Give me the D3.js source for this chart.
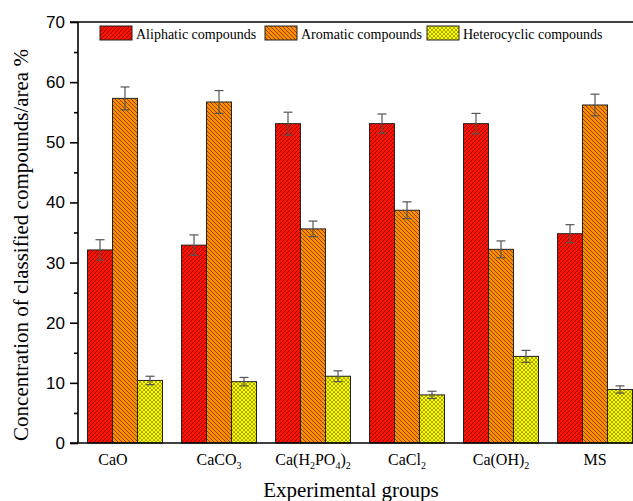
<!DOCTYPE html>
<html>
<head>
<meta charset="utf-8">
<script src="https://cdn.jsdelivr.net/npm/d3@7"></script>
<style>
  body { margin: 0; background: #fff; }
  svg { display: block; }
  .serif { font-family: "Liberation Serif", "Times New Roman", serif; }
  .sans { font-family: "Liberation Sans", Arial, sans-serif; }
</style>
</head>
<body>
<svg id="chart" width="633" height="501"></svg>
<script>
// groups, shown with subscripts (text, subscript) pieces
const groups = ["CaO", "CaCO3", "Ca(H2PO4)2", "CaCl2", "Ca(OH)2", "MS"];
const groupLabels = [
  [["CaO", false]],
  [["CaCO", false], ["3", true]],
  [["Ca(H", false], ["2", true], ["PO", false], ["4", true], [")", false], ["2", true]],
  [["CaCl", false], ["2", true]],
  [["Ca(OH)", false], ["2", true]],
  [["MS", false]]
];
const series = ["Aliphatic compounds", "Aromatic compounds", "Heterocyclic compounds"];
const aliphatic = [32.1, 32.9, 53.1, 53.1, 53.1, 34.8];
const aromatic = [57.3, 56.7, 35.6, 38.7, 32.2, 56.2];
const heterocyclic = [10.4, 10.2, 11.1, 8.0, 14.4, 8.9];
const aliphaticErr = [1.7, 1.7, 1.9, 1.6, 1.7, 1.5];
const aromaticErr = [1.9, 1.9, 1.3, 1.4, 1.4, 1.8];
const heterocyclicErr = [0.7, 0.7, 0.9, 0.6, 1.0, 0.6];
const yTicks = [0, 10, 20, 30, 40, 50, 60, 70];
const yMinor = [5, 15, 25, 35, 45, 55, 65];

const values = [aliphatic, aromatic, heterocyclic];
const errs = [aliphaticErr, aromaticErr, heterocyclicErr];

const svg = d3.select("#chart");
const mLeft = 78, mTop = 22, mBottom = 443, mRight = 633;

const x = d3.scaleBand().domain(groups).range([mLeft, mLeft + 94 * groups.length]);
const xs = d3.scaleBand().domain(series).range([9.5, 84.5]);
const y = d3.scaleLinear().domain([0, 70]).range([mBottom, mTop]);

// fill patterns
const defs = svg.append("defs");
function hatch(id, bg, dir) {
  const p = defs.append("pattern").attr("id", id)
    .attr("patternUnits", "userSpaceOnUse").attr("width", 4).attr("height", 4);
  p.append("rect").attr("width", 4).attr("height", 4).attr("fill", bg);
  const d = dir > 0 ? "M-1,1 l2,-2 M0,4 l4,-4 M3,5 l2,-2" : "M-1,3 l2,2 M0,0 l4,4 M3,-1 l2,2";
  p.append("path").attr("d", d).attr("stroke", "#2a1000").attr("stroke-width", 0.55);
}
hatch("pRed", "#ff1000", 1);
hatch("pOrange", "#ff8c00", -1);
const pc = defs.append("pattern").attr("id", "pYellow")
  .attr("patternUnits", "userSpaceOnUse").attr("width", 4).attr("height", 4);
pc.append("rect").attr("width", 4).attr("height", 4).attr("fill", "#3c3c00");
[[2, 2], [0, 0], [4, 0], [0, 4], [4, 4]].forEach(([cx, cy]) => {
  pc.append("circle").attr("cx", cx).attr("cy", cy).attr("r", 1.5).attr("fill", "#ffff00");
});
const fills = ["url(#pRed)", "url(#pOrange)", "url(#pYellow)"];

// bars
series.forEach((s, si) => {
  const g = svg.append("g");
  g.selectAll("rect").data(groups).join("rect")
    .attr("x", d => x(d) + xs(s))
    .attr("y", (d, i) => y(values[si][i]))
    .attr("width", xs.bandwidth())
    .attr("height", (d, i) => y(0) - y(values[si][i]))
    .attr("fill", fills[si])
    .attr("stroke", "#222").attr("stroke-width", 1);
  // error bars
  const e = svg.append("g").attr("stroke", "#555").attr("stroke-width", 1.2);
  groups.forEach((d, i) => {
    const cx = x(d) + xs(s) + xs.bandwidth() / 2;
    const v = values[si][i], er = errs[si][i];
    e.append("line").attr("x1", cx).attr("x2", cx).attr("y1", y(v - er)).attr("y2", y(v + er));
    e.append("line").attr("x1", cx - 4.5).attr("x2", cx + 4.5).attr("y1", y(v + er)).attr("y2", y(v + er));
    e.append("line").attr("x1", cx - 4.5).attr("x2", cx + 4.5).attr("y1", y(v - er)).attr("y2", y(v - er));
  });
});

// axes
const axisG = svg.append("g").attr("stroke", "#000").attr("stroke-width", 1.6);
axisG.append("line").attr("x1", mLeft).attr("x2", mLeft).attr("y1", mTop).attr("y2", mBottom);
axisG.append("line").attr("x1", mLeft - 8).attr("x2", mRight).attr("y1", mBottom).attr("y2", mBottom);
axisG.append("line").attr("x1", mLeft - 8).attr("x2", mRight).attr("y1", mTop).attr("y2", mTop);

const yAxis = d3.axisLeft(y).tickValues(yTicks).tickSize(8).tickPadding(5).tickFormat(d3.format("d"));
const ya = svg.append("g").attr("transform", `translate(${mLeft},0)`).call(yAxis);
ya.select(".domain").remove();
ya.selectAll("line").attr("stroke", "#000").attr("stroke-width", 1.6);
ya.attr("font-family", null).attr("font-size", null);
ya.selectAll("text").attr("class", "sans").attr("font-size", 17).attr("fill", "#000");
const yAxisMinor = d3.axisLeft(y).tickValues(yMinor).tickSize(4).tickFormat("");
const ym = svg.append("g").attr("transform", `translate(${mLeft},0)`).call(yAxisMinor);
ym.select(".domain").remove();
ym.selectAll("line").attr("stroke", "#000").attr("stroke-width", 1.6);

// x labels with subscripts
groups.forEach((d, i) => {
  const t = svg.append("text").attr("class", "serif")
    .attr("x", x(d) + x.bandwidth() / 2 - (i === 0 ? 12 : 0)).attr("y", 465)
    .attr("text-anchor", "middle")
    .attr("font-size", 16).attr("fill", "#000");
  groupLabels[i].forEach(([txt, sub]) => {
    t.append("tspan").text(txt)
      .attr("font-size", sub ? 10 : 16)
      .attr("baseline-shift", sub ? "-4" : null);
  });
});

// axis titles
svg.append("text").attr("class", "serif")
  .attr("x", 351).attr("y", 497).attr("text-anchor", "middle")
  .attr("font-size", 21).attr("fill", "#000")
  .text("Experimental groups");
svg.append("text").attr("class", "serif")
  .attr("transform", `translate(28,245) rotate(-90)`)
  .attr("text-anchor", "middle")
  .attr("font-size", 21).attr("fill", "#000")
  .text("Concentration of classified compounds/area %");

// legend
const legendX = [100, 265, 427];
const lg = svg.append("g");
series.forEach((s, i) => {
  lg.append("rect").attr("x", legendX[i]).attr("y", 26).attr("width", 32).attr("height", 14)
    .attr("fill", fills[i]).attr("stroke", "#222").attr("stroke-width", 1);
  lg.append("text").attr("class", "serif").attr("x", legendX[i] + 36).attr("y", 38.5)
    .attr("font-size", 14).attr("fill", "#000").text(s);
});
</script>
</body>
</html>
